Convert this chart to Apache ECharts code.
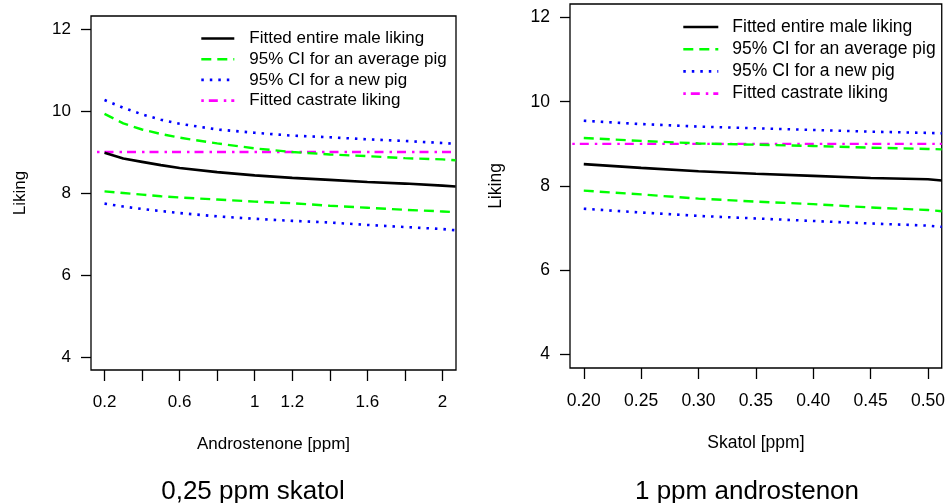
<!DOCTYPE html>
<html>
<head>
<meta charset="utf-8">
<script src="https://cdn.jsdelivr.net/npm/echarts@6/dist/echarts.min.js"></script>
<style>html,body{margin:0;padding:0;background:#fff}#c{width:948px;height:503px}</style>
</head>
<body>
<div id="c"></div>
<script>
// ---- Left panel: 0,25 ppm skatol, x = Androstenone [ppm]
var xLeft      = [0.2, 0.3, 0.4, 0.5, 0.6, 0.8, 1.0, 1.2, 1.4, 1.6, 1.8, 2.0, 2.07];
var fitLeft    = [8.98, 8.84, 8.76, 8.68, 8.61, 8.51, 8.43, 8.37, 8.32, 8.27, 8.23, 8.18, 8.16];
var avgUpLeft  = [9.93, 9.70, 9.55, 9.44, 9.35, 9.21, 9.09, 9.00, 8.94, 8.90, 8.85, 8.82, 8.80];
var avgLoLeft  = [8.04, 8.00, 7.96, 7.92, 7.89, 7.84, 7.79, 7.75, 7.69, 7.64, 7.59, 7.55, 7.53];
var newUpLeft  = [10.27, 10.08, 9.92, 9.79, 9.69, 9.55, 9.47, 9.40, 9.36, 9.31, 9.27, 9.22, 9.20];
var newLoLeft  = [7.74, 7.67, 7.61, 7.56, 7.51, 7.43, 7.37, 7.32, 7.28, 7.22, 7.17, 7.12, 7.09];
var castXLeft  = [0.16, 2.07];
var castLeft   = [9.0, 9.0];

// ---- Right panel: 1 ppm androstenon, x = Skatol [ppm]
var xRight      = [0.20, 0.25, 0.30, 0.35, 0.40, 0.45, 0.50, 0.512];
var fitRight    = [8.52, 8.43, 8.35, 8.29, 8.24, 8.19, 8.16, 8.13];
var avgUpRight  = [9.14, 9.07, 9.01, 8.98, 8.95, 8.91, 8.88, 8.87];
var avgLoRight  = [7.89, 7.80, 7.70, 7.63, 7.57, 7.49, 7.43, 7.40];
var newUpRight  = [9.55, 9.47, 9.41, 9.37, 9.33, 9.29, 9.26, 9.25];
var newLoRight  = [7.46, 7.37, 7.29, 7.23, 7.17, 7.11, 7.06, 7.03];
var castXRight  = [0.19, 0.512];
var castRight   = [9.0, 9.0];

// ---- Ticks and labels
var xTicksLeft  = [0.2, 0.4, 0.6, 0.8, 1.0, 1.2, 1.4, 1.6, 1.8, 2.0];
var xLabelsLeft = [0.2, 0.6, 1.0, 1.2, 1.6, 2.0];
var xTicksRight = [0.20, 0.25, 0.30, 0.35, 0.40, 0.45, 0.50];
var yTicks      = [4, 6, 8, 10, 12];

var names = ['Fitted entire male liking', '95% CI for an average pig', '95% CI for a new pig', 'Fitted castrate liking'];
var subtitles = ['0,25 ppm skatol', '1 ppm androstenon'];

var FONT = 'Arial, "Liberation Sans", sans-serif';

function zip(xs, ys) { return xs.map(function (x, i) { return [x, ys[i]]; }); }

var styles = [
  { color: '#000000', width: 2.6, type: 'solid' },
  { color: '#00FF00', width: 2.4, type: [10, 6] },
  { color: '#0000FF', width: 2.6, type: [2.5, 6] },
  { color: '#FF00FF', width: 2.4, type: [2.5, 5, 9, 6] }
];

function mk(name, idx, data, styleIdx) {
  var s = styles[styleIdx];
  return {
    type: 'line', name: name, xAxisIndex: idx, yAxisIndex: idx,
    data: data, symbol: 'none', showSymbol: false, animation: false,
    lineStyle: { color: s.color, width: s.width, type: s.type },
    itemStyle: { color: s.color }, clip: true, silent: true
  };
}

function xAxisCfg(gi, min, max, ticks, labels, fmt, name, fs) {
  return {
    type: 'value', gridIndex: gi, min: min, max: max, position: 'bottom',
    axisLine: { show: false, onZero: false },
    axisTick: { show: true, inside: false, length: 11, customValues: ticks, lineStyle: { color: '#000', width: 1.3 } },
    axisLabel: { show: true, customValues: labels, margin: 24, color: '#000', fontSize: fs, fontFamily: FONT, formatter: fmt },
    splitLine: { show: false },
    name: name, nameLocation: 'middle', nameGap: 66,
    nameTextStyle: { color: '#000', fontSize: fs, fontFamily: FONT }
  };
}
function yAxisCfg(gi, nameGap, fs) {
  return {
    type: 'value', gridIndex: gi, min: 3.68, max: 12.32,
    axisLine: { show: false, onZero: false },
    axisTick: { show: true, inside: false, length: 10, customValues: yTicks, lineStyle: { color: '#000', width: 1.3 } },
    axisLabel: { show: true, customValues: yTicks, margin: 20, color: '#000', fontSize: fs, fontFamily: FONT },
    splitLine: { show: false },
    name: 'Liking', nameLocation: 'middle', nameGap: nameGap, nameRotate: 90,
    nameTextStyle: { color: '#000', fontSize: fs, fontFamily: FONT }
  };
}

var option = {
  animation: false,
  backgroundColor: '#fff',
  grid: [
    { left: 91, top: 16, width: 365, height: 354, show: true, borderColor: '#000', borderWidth: 1.3, backgroundColor: 'transparent' },
    { left: 570, top: 4, width: 375, height: 364, show: true, borderColor: '#000', borderWidth: 1.3, backgroundColor: 'transparent' }
  ],
  xAxis: [
    xAxisCfg(0, 0.128, 2.072, xTicksLeft, xLabelsLeft, function (v) { return String(Math.round(v * 10) / 10); }, 'Androstenone [ppm]', 17),
    xAxisCfg(1, 0.188, 0.512, xTicksRight, xTicksRight, function (v) { return v.toFixed(2); }, 'Skatol [ppm]', 17.5)
  ],
  yAxis: [yAxisCfg(0, 62, 17), yAxisCfg(1, 65, 17.5)],
  legend: [
    { data: names, orient: 'vertical', left: 200, top: 30, padding: 0, itemWidth: 33, itemHeight: 14, itemGap: 3.7,
      selectedMode: false, itemStyle: { opacity: 0 }, lineStyle: { width: 2.6 },
      textStyle: { fontSize: 17, lineHeight: 17, color: '#000', fontFamily: FONT, padding: [0, 0, 0, 10] } },
    { data: names, orient: 'vertical', left: 682, top: 18, padding: 0, itemWidth: 35, itemHeight: 14, itemGap: 4.2,
      selectedMode: false, itemStyle: { opacity: 0 }, lineStyle: { width: 2.6 },
      textStyle: { fontSize: 17.5, lineHeight: 17, color: '#000', fontFamily: FONT, padding: [0, 0, 0, 9] } }
  ],
  graphic: [
    { type: 'text', x: 253, y: 492, style: { text: subtitles[0], fontSize: 26, fontFamily: FONT, fill: '#000', textAlign: 'center', textVerticalAlign: 'middle' } },
    { type: 'text', x: 747, y: 492, style: { text: subtitles[1], fontSize: 26, fontFamily: FONT, fill: '#000', textAlign: 'center', textVerticalAlign: 'middle' } }
  ],
  series: [
    mk(names[3], 0, zip(castXLeft, castLeft), 3),
    mk(names[1], 0, zip(xLeft, avgUpLeft), 1),
    mk(names[1], 0, zip(xLeft, avgLoLeft), 1),
    mk(names[2], 0, zip(xLeft, newUpLeft), 2),
    mk(names[2], 0, zip(xLeft, newLoLeft), 2),
    mk(names[0], 0, zip(xLeft, fitLeft), 0),
    mk(names[3], 1, zip(castXRight, castRight), 3),
    mk(names[1], 1, zip(xRight, avgUpRight), 1),
    mk(names[1], 1, zip(xRight, avgLoRight), 1),
    mk(names[2], 1, zip(xRight, newUpRight), 2),
    mk(names[2], 1, zip(xRight, newLoRight), 2),
    mk(names[0], 1, zip(xRight, fitRight), 0)
  ]
};

var chart = echarts.init(document.getElementById('c'), null, { renderer: 'canvas' });
chart.setOption(option);
</script>
</body>
</html>
